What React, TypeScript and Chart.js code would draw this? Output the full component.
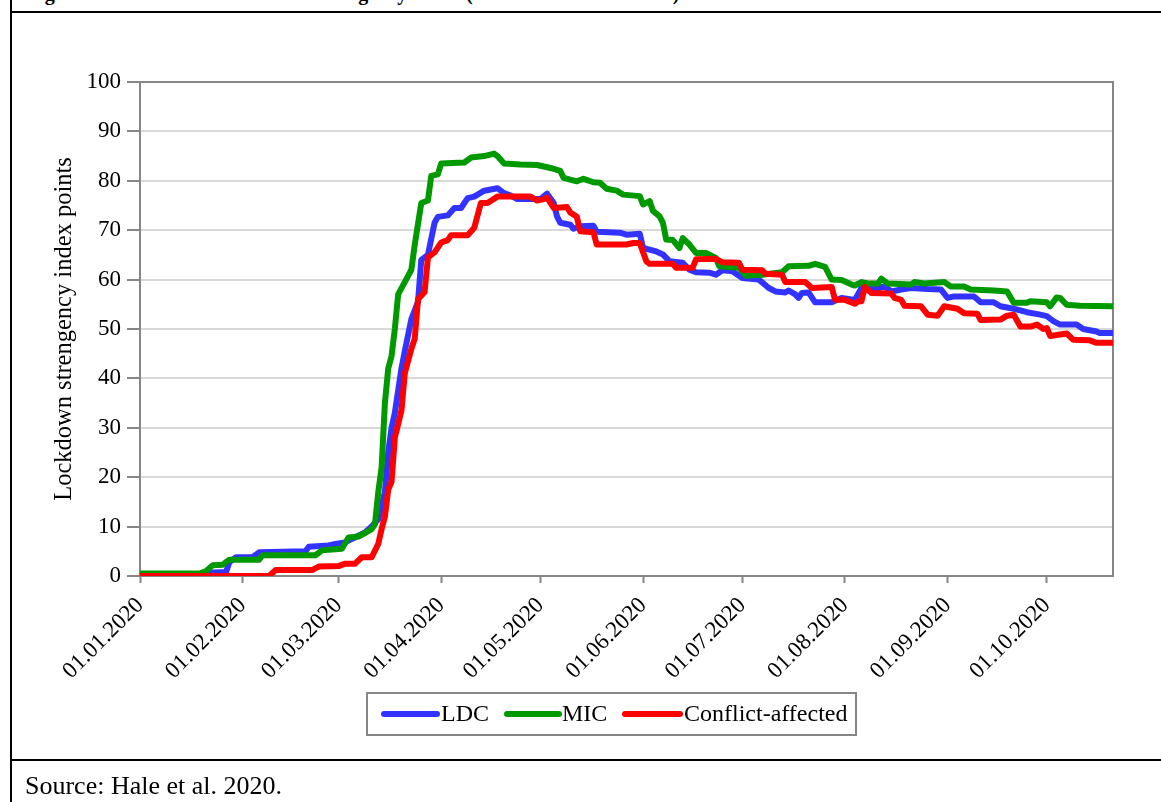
import React, { useEffect, useRef } from 'react';
import { Chart, registerables } from 'chart.js';

Chart.register(...registerables);

// ---- Data (x = days since 01.01.2020, y = stringency index points) ----
const monthTickDays = [0, 31, 60, 91, 121, 152, 182, 213, 244, 274];
const monthTickLabels = [
  '01.01.2020', '01.02.2020', '01.03.2020', '01.04.2020', '01.05.2020',
  '01.06.2020', '01.07.2020', '01.08.2020', '01.09.2020', '01.10.2020',
];

const ldcDays = [0, 20, 22, 26, 27, 29, 34, 36, 50, 51, 57, 59, 62, 64, 68, 70, 72, 74, 75, 76, 77, 79, 80, 82, 84, 85, 87, 89, 90, 93, 95, 97, 99, 101, 104, 108, 110, 112, 114, 121, 123, 125, 126, 127, 130, 131, 133, 137, 138, 145, 147, 151, 152, 156, 158, 160, 164, 166, 168, 172, 174, 176, 179, 182, 187, 190, 192, 195, 196, 198, 199, 200, 202, 204, 209, 212, 216, 218, 223, 225, 227, 230, 233, 238, 242, 244, 246, 252, 254, 258, 260, 264, 268, 272, 274, 276, 278, 283, 285, 289, 290, 294];
const ldcValues = [0.2, 0.2, 0.7, 0.8, 2.8, 3.8, 3.8, 4.8, 5, 5.9, 6.2, 6.5, 6.8, 7.5, 8.8, 10, 11.5, 17, 25, 30, 33, 42, 45.5, 52, 55.5, 64, 65, 71.5, 72.7, 73, 74.5, 74.5, 76.5, 76.8, 78, 78.5, 77.5, 77, 76.3, 76.3, 77.4, 75.5, 72.8, 71.5, 71.1, 70.3, 70.8, 70.9, 69.7, 69.5, 69.1, 69.3, 66.4, 65.7, 65.1, 63.7, 63.4, 62, 61.5, 61.4, 61, 61.9, 61.7, 60.3, 60, 58.3, 57.6, 57.4, 57.8, 57, 56.3, 57.3, 57.4, 55.4, 55.4, 56.3, 55.9, 58.3, 58.3, 58.6, 57.6, 58, 58.3, 58.1, 58, 56.3, 56.6, 56.6, 55.4, 55.4, 54.6, 54.1, 53.4, 52.9, 52.6, 51.6, 50.9, 50.9, 50, 49.5, 49.2, 49.2];

const micDays = [0, 18, 20, 22, 25, 27, 36, 37, 53, 55, 61, 63, 66, 68, 70, 71, 72, 73, 74, 75, 76, 77, 78, 80, 82, 83, 85, 87, 88, 90, 91, 98, 100, 104, 107, 108, 110, 115, 120, 124, 127, 128, 132, 134, 137, 139, 141, 144, 146, 151, 152, 154, 155, 157, 158, 159, 161, 163, 164, 166, 168, 171, 174, 175, 181, 183, 188, 194, 196, 202, 204, 207, 209, 212, 215, 216, 218, 220, 223, 224, 226, 233, 234, 237, 243, 245, 249, 251, 258, 262, 264, 268, 269, 274, 275, 277, 278, 280, 284, 294];
const micValues = [0.5, 0.5, 1.0, 2.2, 2.3, 3.3, 3.3, 4.2, 4.2, 5.2, 5.5, 7.8, 8.0, 8.7, 9.5, 10.5, 17, 22, 35, 42, 44.5, 50, 57, 59.5, 62, 67, 75.5, 76, 81, 81.3, 83.5, 83.7, 84.7, 85, 85.5, 85, 83.5, 83.3, 83.2, 82.6, 82, 80.6, 79.9, 80.4, 79.7, 79.6, 78.4, 78, 77.2, 76.9, 75.2, 75.9, 73.9, 72.8, 71.5, 68.1, 68, 66.4, 68.4, 67.1, 65.4, 65.4, 64.4, 62.7, 62.4, 60.8, 61, 61.5, 62.7, 62.8, 63.2, 62.6, 60, 59.9, 59, 58.8, 59.5, 59.2, 59.2, 60.2, 59.2, 59, 59.5, 59.2, 59.5, 58.6, 58.6, 58, 57.8, 57.6, 55.3, 55.3, 55.6, 55.4, 54.6, 56.4, 56.3, 54.9, 54.7, 54.6];

const conflictDays = [0, 39, 41, 52, 54, 60, 62, 65, 67, 70, 72, 73, 74, 75, 76, 77, 79, 80, 82, 83, 84, 86, 87, 89, 91, 93, 94, 99, 101, 103, 105, 108, 118, 120, 122, 123, 125, 129, 130, 132, 133, 137, 138, 147, 149, 151, 153, 154, 161, 162, 167, 168, 174, 176, 181, 182, 188, 189, 194, 195, 201, 203, 209, 210, 213, 216, 217, 218, 219, 221, 227, 228, 230, 231, 236, 238, 241, 243, 247, 249, 253, 254, 260, 262, 264, 266, 269, 271, 273, 274, 275, 280, 282, 287, 289, 294];
const conflictValues = [0, 0, 1.2, 1.2, 1.9, 2, 2.5, 2.5, 3.8, 3.8, 6.5, 9.5, 12, 17.5, 19, 28, 33.5, 41, 46, 48, 56, 57.5, 64.5, 65.5, 67.5, 68, 69, 69, 70.5, 75.5, 75.5, 76.8, 76.8, 76, 76.3, 76.6, 74.5, 74.7, 73.6, 72.7, 69.8, 69.6, 67.1, 67.1, 67.4, 67.4, 63.7, 63.2, 63.2, 62.4, 62.4, 64.1, 64.2, 63.5, 63.4, 62, 61.9, 61.2, 61, 59.5, 59.5, 58.3, 58.5, 55.9, 55.9, 55.1, 55.6, 55.6, 58.5, 57.3, 57.2, 56.3, 55.9, 54.7, 54.6, 52.9, 52.7, 54.6, 54.1, 53.2, 53.1, 51.8, 51.9, 52.7, 52.9, 50.5, 50.5, 50.9, 50, 50.2, 48.6, 49.1, 47.8, 47.7, 47.2, 47.2];

const seriesLabels = ['LDC', 'MIC', 'Conflict-affected'];
const seriesColors = ['#3333FF', '#009900', '#FF0000'];

const toPoints = (days: number[], values: number[]) => days.map((d, i) => ({ x: d, y: values[i] }));

const SERIF = '"Liberation Serif", "Times New Roman", Times, serif';

const plotBorderPlugin = {
  id: 'plotBorder',
  beforeDatasetsDraw(chart: any) {
    const { ctx, chartArea } = chart;
    ctx.save();
    ctx.strokeStyle = '#868686';
    ctx.lineWidth = 2;
    ctx.beginPath();
    ctx.moveTo(chartArea.left, chartArea.top);
    ctx.lineTo(chartArea.right, chartArea.top);
    ctx.lineTo(chartArea.right, chartArea.bottom);
    ctx.stroke();
    ctx.restore();
  },
};

const boxLegendPlugin = {
  id: 'boxLegend',
  afterDraw(chart: any) {
    const { ctx } = chart;
    ctx.save();
    ctx.strokeStyle = '#868686';
    ctx.lineWidth = 2;
    ctx.strokeRect(367, 693, 489, 42);
    const pos = [[384, 437, 441], [507, 559, 562], [625, 680, 684]];
    chart.data.datasets.forEach((ds: any, i: number) => {
      const [x1, x2, tx] = pos[i];
      const y = 714;
      ctx.strokeStyle = ds.borderColor;
      ctx.lineWidth = 6;
      ctx.lineCap = 'round';
      ctx.beginPath();
      ctx.moveTo(x1, y);
      ctx.lineTo(x2, y);
      ctx.stroke();
      ctx.fillStyle = '#000';
      ctx.font = `24px ${SERIF}`;
      ctx.textBaseline = 'middle';
      ctx.textAlign = 'left';
      ctx.fillText(ds.label, tx, y + 1);
    });
    ctx.restore();
  },
};

function LineChart() {
  const ref = useRef<HTMLCanvasElement | null>(null);
  useEffect(() => {
    if (!ref.current) return;
    const seriesData = [
      toPoints(ldcDays, ldcValues),
      toPoints(micDays, micValues),
      toPoints(conflictDays, conflictValues),
    ];
    const chart = new Chart(ref.current, {
      type: 'line',
      data: {
        datasets: seriesData.map((d, i) => ({
          label: seriesLabels[i],
          data: d,
          borderColor: seriesColors[i],
          backgroundColor: seriesColors[i],
          borderWidth: 6,
          pointRadius: 0,
          tension: 0,
          borderJoinStyle: 'round' as const,
          borderCapStyle: 'round' as const,
          order: 3 - i,
        })),
      },
      options: {
        animation: false,
        responsive: false,
        layout: { padding: { left: 0, top: 82, right: 48, bottom: 116 } },
        plugins: { legend: { display: false }, tooltip: { enabled: false } },
        scales: {
          x: {
            type: 'linear',
            min: 0,
            max: 294,
            afterFit: (s: any) => { s.height = 110; },
            afterBuildTicks: (s: any) => { s.ticks = monthTickDays.map((v) => ({ value: v })); },
            grid: { display: true, drawOnChartArea: false, tickLength: 7, tickColor: '#868686', tickWidth: 2 },
            border: { color: '#868686', width: 2 },
            ticks: {
              autoSkip: false,
              minRotation: 45,
              maxRotation: 45,
              padding: 9,
              color: '#000',
              font: { family: SERIF, size: 23 },
              callback: (_v: any, i: number) => monthTickLabels[i],
            },
          },
          y: {
            min: 0,
            max: 100,
            afterFit: (s: any) => { s.width = 140; },
            grid: { color: '#d9d9d9', lineWidth: 2, tickLength: 13, tickColor: '#868686', tickWidth: 2 },
            border: { color: '#868686', width: 2 },
            ticks: { stepSize: 10, padding: 6, color: '#000', font: { family: SERIF, size: 23 } },
            title: {
              display: true,
              text: 'Lockdown strengency index points',
              color: '#000',
              font: { family: SERIF, size: 24.5 },
              padding: { top: 50, bottom: 0 },
            },
          },
        },
      },
      plugins: [plotBorderPlugin, boxLegendPlugin],
    } as any);
    return () => chart.destroy();
  }, []);
  return <canvas ref={ref} width={1161} height={802} style={{ position: 'absolute', left: 0, top: 0 }} />;
}

export default function App() {
  return (
    <div style={{ position: 'absolute', left: 0, top: 0, width: 1161, height: 802, overflow: 'hidden', background: '#fff' }}>
      <div style={{ position: 'absolute', left: 27, top: -17, whiteSpace: 'nowrap', font: `bold 20px/20px ${SERIF}`, color: '#000' }}>
        Figure 3: Evolution of Lockdown Stringency Index (01.01.2020 – 20.10.2020)
      </div>
      <div style={{ position: 'absolute', left: 10, top: 0, width: 2, height: 802, background: '#000' }} />
      <div style={{ position: 'absolute', left: 10, top: 11, width: 1151, height: 2, background: '#000' }} />
      <div style={{ position: 'absolute', left: 10, top: 759, width: 1151, height: 2, background: '#000' }} />
      <LineChart />
      <div style={{ position: 'absolute', left: 25, top: 771, whiteSpace: 'nowrap', font: `26px/30px ${SERIF}`, color: '#000' }}>
        Source: Hale et al. 2020.
      </div>
    </div>
  );
}
